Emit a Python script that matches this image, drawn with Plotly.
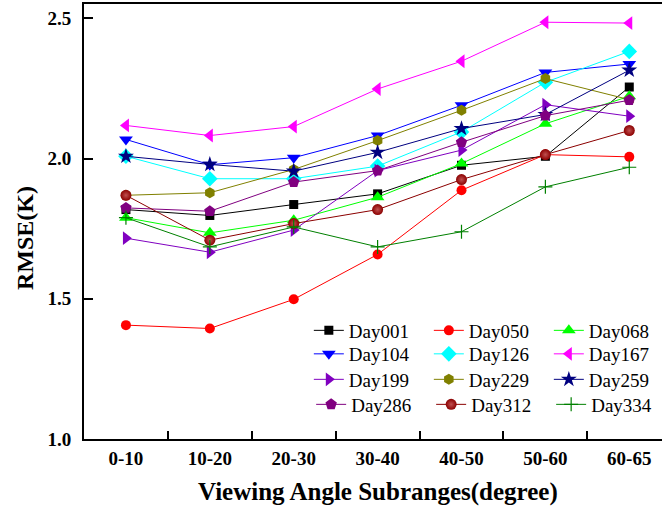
import plotly.graph_objects as go

categories = ["0-10", "10-20", "20-30", "30-40", "40-50", "50-60", "60-65"]

day001 = [1.818, 1.797, 1.836, 1.874, 1.976, 2.008, 2.255]
day050 = [1.406, 1.394, 1.498, 1.658, 1.887, 2.014, 2.006]
day068 = [1.789, 1.735, 1.780, 1.862, 1.982, 2.124, 2.222]
day104 = [2.068, 1.978, 2.003, 2.082, 2.190, 2.307, 2.337]
day126 = [2.008, 1.928, 1.928, 1.973, 2.095, 2.272, 2.382]
day167 = [2.118, 2.082, 2.114, 2.248, 2.347, 2.486, 2.483]
day199 = [1.716, 1.666, 1.745, 1.957, 2.030, 2.192, 2.151]
day229 = [1.869, 1.878, 1.961, 2.064, 2.172, 2.285, 2.210]
day259 = [2.008, 1.979, 1.955, 2.022, 2.107, 2.157, 2.315]
day286 = [1.824, 1.812, 1.916, 1.957, 2.058, 2.153, 2.208]
day312 = [1.869, 1.709, 1.768, 1.818, 1.925, 2.014, 2.100]
day334 = [1.789, 1.685, 1.756, 1.685, 1.739, 1.899, 1.969]

y_ticks = [1.0, 1.5, 2.0, 2.5]

series = [
    ("Day001", day001, "#000000", "square", 9, "legend", 75),
    ("Day050", day050, "#FF0000", "circle", 10, "legend", 75),
    ("Day068", day068, "#00FF00", "triangle-up", 12, "legend", 56),
    ("Day104", day104, "#0000FF", "triangle-down", 12, "legend2", 75),
    ("Day126", day126, "#00FFFF", "diamond", 12, "legend2", 75),
    ("Day167", day167, "#FF00FF", "triangle-left", 12, "legend2", 56),
    ("Day199", day199, "#8000C0", "triangle-right", 12, "legend3", 75),
    ("Day229", day229, "#808000", "hexagon", 11, "legend3", 75),
    ("Day259", day259, "#000080", "star", 12, "legend3", 56),
    ("Day286", day286, "#800080", "pentagon", 12, "legend4", 75),
    ("Day312", day312, "#8B0000", "circle", 11, "legend4", 75),
    ("Day334", day334, "#008000", "cross-thin", 10, "legend4", 56),
]

fig = go.Figure()
for name, vals, color, sym, size, leg, lw in series:
    marker = dict(symbol=sym, size=size, color=color, line=dict(width=0))
    if sym == "cross-thin":
        marker["line"] = dict(width=1.2, color=color)
    if name == "Day312":
        marker["gradient"] = dict(type="radial", color="#C05050")
    fig.add_trace(go.Scatter(
        x=categories, y=vals, name=name, mode="lines+markers",
        line=dict(color=color, width=1), marker=marker, legend=leg,
        legendwidth=lw,
    ))


def legend_row(x, y):
    return dict(
        orientation="h", x=x, y=y, xanchor="left", yanchor="top",
        entrywidth=75, bgcolor="rgba(0,0,0,0)",
        font=dict(family="Liberation Serif", size=19, color="black"),
        traceorder="normal",
    )


fig.update_layout(
    width=662, height=512,
    margin=dict(l=84, r=0, t=4, b=73),
    plot_bgcolor="white", paper_bgcolor="white",
    font=dict(family="Liberation Serif", color="black"),
    showlegend=True,
    legend=legend_row(0.389, 0.2931),
    legend2=legend_row(0.389, 0.2391),
    legend3=legend_row(0.389, 0.1805),
    legend4=legend_row(0.393, 0.1230),
    xaxis=dict(
        type="category", range=[-0.5, 6.39],
        showline=True, linewidth=2, linecolor="black", mirror=True,
        ticks="inside", tickson="boundaries", ticklen=8, tickwidth=1.5, tickcolor="black",
        showgrid=False, zeroline=False,
        tickfont=dict(family="Liberation Serif", size=19, color="black", weight="bold"),
        ticklabelstandoff=1,
    ),
    yaxis=dict(
        range=[1.0, 2.551],
        tickvals=y_ticks, ticktext=[f"{v:.1f}" for v in y_ticks],
        showline=True, linewidth=2, linecolor="black", mirror=False,
        ticks="inside", ticklen=9, tickwidth=1.5, tickcolor="black",
        showgrid=False, zeroline=False,
        tickfont=dict(family="Liberation Serif", size=19, color="black", weight="bold"),
        ticklabelstandoff=7,
    ),
    annotations=[
        dict(text="<b>Viewing Angle Subranges(degree)</b>", xref="paper", yref="paper",
             x=(378 - 84) / 578, y=-(492 - 439) / 435, xanchor="center", yanchor="middle",
             showarrow=False, font=dict(family="Liberation Serif", size=25, color="black")),
        dict(text="<b>RMSE(K)</b>", xref="paper", yref="paper",
             x=-(84 - 25) / 578, y=(439 - 238) / 435, xanchor="center", yanchor="middle",
             textangle=-90, showarrow=False,
             font=dict(family="Liberation Serif", size=24, color="black")),
    ],
)

fig.write_html("out.html")
